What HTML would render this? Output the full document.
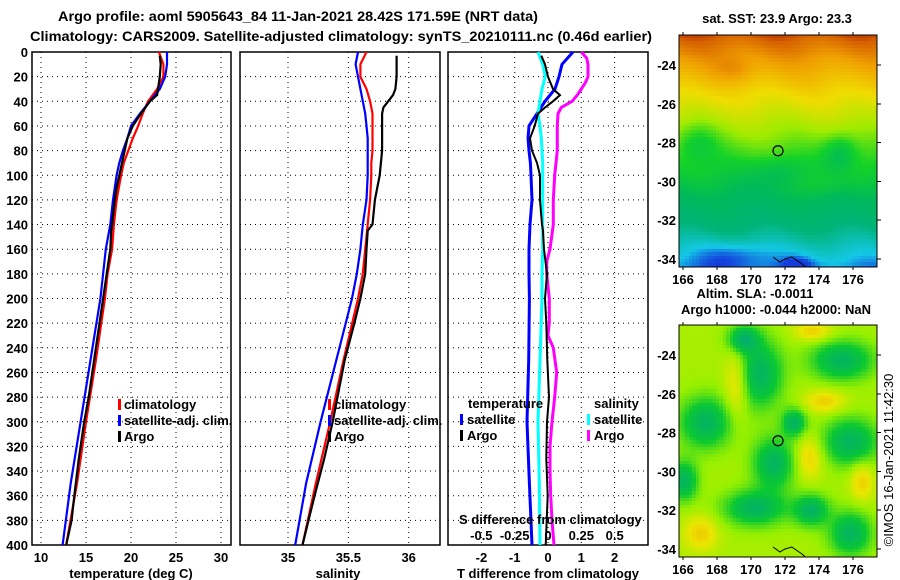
<!DOCTYPE html>
<html><head><meta charset="utf-8"><style>
html,body{margin:0;padding:0;background:#fff;}
svg{display:block;font-family:"Liberation Sans",Arial,sans-serif;font-weight:bold;}
</style></head><body>
<svg id="fig" width="900" height="580" viewBox="0 0 900 580" xmlns="http://www.w3.org/2000/svg">
<text x="58" y="21" font-size="14" textLength="480" lengthAdjust="spacingAndGlyphs">Argo profile: aoml 5905643_84 11-Jan-2021 28.42S 171.59E (NRT data)</text>
<text x="30" y="41" font-size="14" textLength="622" lengthAdjust="spacingAndGlyphs">Climatology: CARS2009. Satellite-adjusted climatology: synTS_20210111.nc (0.46d earlier)</text>
<g id="panels"></g>
<g id="maps"></g>
</svg>
<script>
// ---- data ----
const depths = [0,10,20,30,40,50,60,70,80,90,100,120,140,160,180,200,250,300,350,400];
const tempClim = [23.1,23.6,23.6,22.9,21.9,21.3,20.8,20.2,19.7,19.2,18.9,18.4,18.1,17.9,17.4,17.1,16.1,15.0,14.0,12.8];
const tempSat  = [24.0,24.0,23.8,23.2,22.1,21.0,20.0,19.6,19.1,18.7,18.4,18.0,17.7,17.2,16.9,16.6,15.5,14.4,13.3,12.4];
const argoDepths = [3,10,20,30,35,40,45,50,60,70,80,90,100,110,120,140,145,160,180,200,220,250,280,300,330,360,380,400];
const tempArgo = [23.2,23.3,23.2,23.0,22.9,22.1,21.6,21.1,20.2,19.6,19.3,19.0,18.7,18.4,18.2,17.9,17.8,17.7,17.3,16.9,16.5,15.9,15.3,14.8,14.2,13.7,13.4,12.8];
const salClim = [35.65,35.60,35.60,35.65,35.68,35.70,35.70,35.70,35.70,35.69,35.69,35.68,35.66,35.64,35.62,35.58,35.46,35.35,35.23,35.12];
const salSat  = [35.58,35.56,35.58,35.60,35.62,35.64,35.65,35.66,35.66,35.66,35.66,35.65,35.62,35.60,35.57,35.53,35.40,35.27,35.15,35.06];
const salArgo = [35.90,35.90,35.90,35.89,35.87,35.83,35.79,35.78,35.78,35.78,35.78,35.77,35.76,35.74,35.72,35.70,35.66,35.65,35.64,35.60,35.55,35.47,35.41,35.37,35.30,35.22,35.17,35.12];
const tDiffSat = [0.75,0.42,0.33,0.21,-0.09,-0.33,-0.57,-0.60,-0.57,-0.53,-0.51,-0.48,-0.54,-0.57,-0.57,-0.56,-0.58,-0.63,-0.56,-0.48];
const tDiffArgo = [-0.2,-0.09,0.0,0.15,0.36,0.15,-0.09,-0.3,-0.4,-0.54,-0.48,-0.33,-0.24,-0.24,-0.24,-0.18,-0.15,-0.12,-0.03,-0.09,-0.05,-0.02,0.03,-0.03,-0.05,-0.01,-0.04,-0.07];
const sDiffSat = [-0.075,-0.04,-0.02,-0.045,-0.06,-0.075,-0.06,-0.05,-0.045,-0.04,-0.04,-0.04,-0.04,-0.04,-0.045,-0.045,-0.06,-0.075,-0.065,-0.06];
const sDiffArgoDepths = [0,5,10,20,25,30,35,40,45,50,60,80,100,120,140,160,170,180,200,220,230,240,260,280,300,320,340,360,380,400];
const sDiffArgo = [0.25,0.29,0.30,0.30,0.28,0.25,0.22,0.18,0.10,0.075,0.07,0.07,0.05,0.04,0.04,0.015,-0.01,-0.01,0.01,0.01,0.0,0.04,0.065,0.05,0.03,0.015,0.015,0.02,0.03,0.045];
const depthTicks = [0,20,40,60,80,100,120,140,160,180,200,220,240,260,280,300,320,340,360,380,400];
const tempTicks = [10,15,20,25,30];
const salTicks = [35,35.5,36];
const tDiffTicks = [-2,-1,0,1,2];
const sDiffTicks = [-0.5,-0.25,0,0.25,0.5];
const sDiffTickLabels = ["-0.5","-0.25","0","0.25","0.5"];

// ---- axes ----
const Y = d => 52 + d*(493/400);
const TX = t => 41 + (t-10)*9;
const SX = s => 288 + (s-35)*120.7;
const DX = v => 548 + v*33.3;
const SDX = v => 548 + v*133.3;
const NS = "http://www.w3.org/2000/svg";
const panels = document.getElementById('panels');
function el(tag, attrs, parent, text){
  const e = document.createElementNS(NS, tag);
  for (const k in attrs) e.setAttribute(k, attrs[k]);
  if (text !== undefined) e.textContent = text;
  (parent||panels).appendChild(e);
  return e;
}
function line(xs, ds, f, color, name, w){
  const pts = xs.map((v,i)=>f(v).toFixed(1)+','+Y(ds[i]).toFixed(1)).join(' ');
  const p = el('polyline',{points:pts,fill:'none',stroke:color,'stroke-width':w||2.2,'stroke-linejoin':'miter'});
  
  
}
function panel(x0,x1,name,vticks,vf){
  const g = el('g',{});
  
  
  depthTicks.forEach(d=>{ if(d>0&&d<400){ const l=el('line',{x1:x0,x2:x1,y1:Y(d),y2:Y(d),stroke:'#000','stroke-width':1,'stroke-dasharray':'1,4'},g);   }});
  vticks.forEach(v=>{ const l=el('line',{x1:vf(v),x2:vf(v),y1:52,y2:545,stroke:'#000','stroke-width':1,'stroke-dasharray':'1,4'},g);   });
  const r = el('rect',{x:x0,y:52,width:x1-x0,height:493,fill:'none',stroke:'#000','stroke-width':1.5},g);
  
  
}
panel(32,231,'temperature-panel',tempTicks,TX);
panel(240,440,'salinity-panel',salTicks,SX);
panel(448,648,'difference-panel',tDiffTicks,DX);

depthTicks.forEach(d=>{
  const t = el('text',{x:28,y:Y(d)+5,'font-size':13,'text-anchor':'end'},panels,String(d));
  
  
});
tempTicks.forEach(v=>{ const t=el('text',{x:TX(v),y:562,'font-size':13,'text-anchor':'middle'},panels,String(v));   });
salTicks.forEach(v=>{ const t=el('text',{x:SX(v),y:562,'font-size':13,'text-anchor':'middle'},panels,String(v));   });
tDiffTicks.forEach(v=>{ const t=el('text',{x:DX(v),y:562,'font-size':13,'text-anchor':'middle'},panels,String(v));   });
sDiffTicks.forEach((v,i)=>{ const t=el('text',{x:SDX(v),y:540,'font-size':13,'text-anchor':'middle'},panels,sDiffTickLabels[i]);   });

// series
line(tempClim,depths,TX,'#ff0000','temp-climatology-line');
line(tempSat,depths,TX,'#0000ff','temp-satellite-line');
line(tempArgo,argoDepths,TX,'#000000','temp-argo-line');
line(salClim,depths,SX,'#ff0000','sal-climatology-line');
line(salSat,depths,SX,'#0000ff','sal-satellite-line');
line(salArgo,argoDepths,SX,'#000000','sal-argo-line');
line(tDiffSat,depths,DX,'#0000ff','t-diff-satellite-line',3);
line(sDiffSat,depths,SDX,'#00ffff','s-diff-satellite-line',3);
line(sDiffArgo,sDiffArgoDepths,SDX,'#ff00ff','s-diff-argo-line',3);
line(tDiffArgo,argoDepths,DX,'#000000','t-diff-argo-line',2);

// texts & legends
function txt(x,y,s,name,size,anchor){ const t=el('text',{x:x,y:y,'font-size':size||13,'text-anchor':anchor||'start'},panels,s);   return t; }
function mark(x,y,c,name){ const r=el('rect',{x:x,y:y-10,width:3,height:11,fill:c});   }
txt(131,578,'temperature (deg C)','temperature-axis-title',13,'middle');
txt(338,578,'salinity','salinity-axis-title',13,'middle');
txt(548,578,'T difference from climatology','t-diff-axis-title',13,'middle');
txt(459,524,'S difference from climatology','s-diff-axis-title',13);
[[118,'#ff0000','climatology'],[118,'#0000ff','satellite-adj. clim.'],[118,'#000000','Argo']].forEach((a,i)=>{ mark(a[0],409+i*16,a[1],'legend-marker'); txt(a[0]+6,409+i*16,a[2],'legend-entry'); });
[[328,'#ff0000','climatology'],[328,'#0000ff','satellite-adj. clim.'],[328,'#000000','Argo']].forEach((a,i)=>{ mark(a[0],409+i*16,a[1],'legend-marker'); txt(a[0]+6,409+i*16,a[2],'legend-entry'); });
txt(468,408,'temperature','legend-temperature-heading');
mark(460,424,'#0000ff','legend-marker'); txt(467,424,'satellite','legend-entry');
mark(460,440,'#000000','legend-marker'); txt(467,440,'Argo','legend-entry');
txt(594,408,'salinity','legend-salinity-heading');
mark(587,424,'#00ffff','legend-marker'); txt(594,424,'satellite','legend-entry');
mark(587,440,'#ff00ff','legend-marker'); txt(594,440,'Argo','legend-entry');

// ---- maps ----
const lonTicks = [166,168,170,172,174,176];
const latTicks = [-24,-26,-28,-30,-32,-34];
const maps = document.getElementById('maps');
function lerpC(stops, v){
  v=Math.max(0,Math.min(1,v));
  for(let i=1;i<stops.length;i++){ if(v<=stops[i][0]){ const a=stops[i-1],b=stops[i],f=(v-a[0])/(b[0]-a[0]); return 'rgb('+[0,1,2].map(k=>Math.round(a[1][k]+(b[1][k]-a[1][k])*f)).join(',')+')'; } }
  return 'rgb('+stops[stops.length-1][1].join(',')+')';
}
const sstStops=[[0,[20,60,220]],[0.08,[20,200,230]],[0.2,[0,180,120]],[0.33,[0,185,90]],[0.45,[20,210,40]],[0.58,[160,235,0]],[0.72,[240,220,0]],[0.86,[240,160,0]],[0.95,[215,100,0]],[1,[180,40,0]]];
const slaStops=[[0,[0,170,120]],[0.3,[10,200,50]],[0.52,[150,240,0]],[0.72,[235,230,0]],[0.9,[240,180,0]],[1,[240,160,0]]];
function bump(lo,la,cx,cy,rx,ry){ const dx=(lo-cx)/rx, dy=(la-cy)/ry; return Math.exp(-(dx*dx+dy*dy)); }
function sstVal(lo,la){
  let v=(la+35)/13;
  v-=0.15*bump(lo,la,175.2,-28.5,1.0,0.9);
  v-=0.12*bump(lo,la,166.8,-28.0,1.2,1.0);
  v+=0.06*bump(lo,la,174,-30.2,1.5,0.8);
  v-=0.08*bump(lo,la,171.5,-29.5,1.5,0.8);
  v-=0.08*bump(lo,la,169,-33.8,2.0,0.7);
  v-=0.1*bump(lo,la,172.7,-34.3,0.8,0.4);
  v+=0.06*bump(lo,la,169,-24.3,1.2,0.6);
  v+=0.02*Math.sin(lo*1.3+la*0.9);
  return v;
}
function slaVal(lo,la){
  let v=0.56;
  [[170.5,-25,1.3,1.7],[167.3,-27.5,1.5,1.3],[171.3,-29.6,1.2,1.3],[175.8,-28.5,1.6,1.2],[170.2,-31.9,1.8,0.9],[175.3,-24.3,1.8,1.0],[175.8,-33.2,1.2,1.1],[169.5,-23.2,0.9,0.7],[172.5,-27.5,0.7,0.7],[166,-30.5,0.8,1.0],[173.5,-32,1.0,0.8]].forEach(b=>v-=0.45*bump(lo,la,b[0],b[1],b[2],b[3]));
  [[169.1,-25.5,0.7,1.8],[173.4,-29.3,0.8,1.1],[167,-33.2,1.0,0.9],[173.6,-22.8,1.1,0.5],[174.3,-26.4,1.2,0.6],[176.5,-30.5,0.7,1.0]].forEach(b=>v+=0.25*bump(lo,la,b[0],b[1],b[2],b[3]));
  return v;
}
function drawMap(y0,name,fn,stops){
  const g=document.createElementNS(NS,'g'); maps.appendChild(g);
  
  
  g.setAttribute('shape-rendering','crispEdges');
  const x0=679,x1=877,y1=y0+232;
  const LX=lo=>683+(lo-166)*17, LY=la=>y0+30+(-24-la)*19.4;
  for(let i=0;i<59;i++){
    for(let j=0;j<69;j++){
      const lo=165.7+i*0.2, la=-22.45-j*0.175;
      const x=x0+i*3.4, y=y0+j*3.4;
      if(x>=x1||y>=y1) continue;
      const r=document.createElementNS(NS,'rect');
      r.setAttribute('x',Math.floor(x)); r.setAttribute('y',Math.floor(y));
      r.setAttribute('width',Math.min(5,x1-Math.floor(x))); r.setAttribute('height',Math.min(5,y1-Math.floor(y)));
      r.setAttribute('fill',lerpC(stops,fn(lo+0.1,la-0.09)));
      g.appendChild(r);
    }
  }
  const fr=document.createElementNS(NS,'rect');
  fr.setAttribute('x',x0);fr.setAttribute('y',y0);fr.setAttribute('width',x1-x0);fr.setAttribute('height',232);
  fr.setAttribute('fill','none');fr.setAttribute('stroke','#000');fr.setAttribute('stroke-width','1');
   
  g.appendChild(fr);
  lonTicks.forEach(lo=>{ el('line',{x1:LX(lo),x2:LX(lo),y1:y0-3,y2:y0,stroke:'#000'},g); el('line',{x1:LX(lo),x2:LX(lo),y1:y1,y2:y1+3,stroke:'#000'},g);
    const t=el('text',{x:LX(lo),y:y1+17,'font-size':13,'text-anchor':'middle'},g,String(lo));   });
  latTicks.forEach(la=>{ el('line',{x1:x1,x2:x1+4,y1:LY(la),y2:LY(la),stroke:'#000'},g);
    const t=el('text',{x:676,y:LY(la)+5,'font-size':13,'text-anchor':'end'},g,String(la));   });
  const c=el('circle',{cx:LX(171.59),cy:LY(-28.42),r:5,fill:'none',stroke:'#000','stroke-width':1.2,'shape-rendering':'auto'},g);
   
  const coast=el('polyline',{points:`${LX(171.3)},${y1-10} ${LX(171.7)},${y1-5} ${LX(172)},${y1-8} ${LX(172.4)},${y1-10} ${LX(173)},${y1-3} ${LX(173.2)},${y1}`,fill:'none',stroke:'#000','stroke-width':1,'shape-rendering':'auto'},g);
   
}
drawMap(35,'sst-map',sstVal,sstStops);
drawMap(325,'sla-map',slaVal,slaStops);
function mtxt(x,y,s,name,anchor){ const t=el('text',{x:x,y:y,'font-size':13,'text-anchor':anchor||'middle'},maps,s);   return t; }
mtxt(777,23,'sat. SST: 23.9 Argo: 23.3','sst-map-title');
mtxt(755,298,'Altim. SLA: -0.0011','sla-title');
mtxt(776,314,'Argo h1000: -0.044 h2000: NaN','sla-map-title');
const cr=el('text',{x:0,y:0,'font-size':13,'font-weight':'normal','text-anchor':'middle',transform:'translate(893,460) rotate(-90)'},maps,'©IMOS 16-Jan-2021 11:42:30');


</script>
</body></html>
